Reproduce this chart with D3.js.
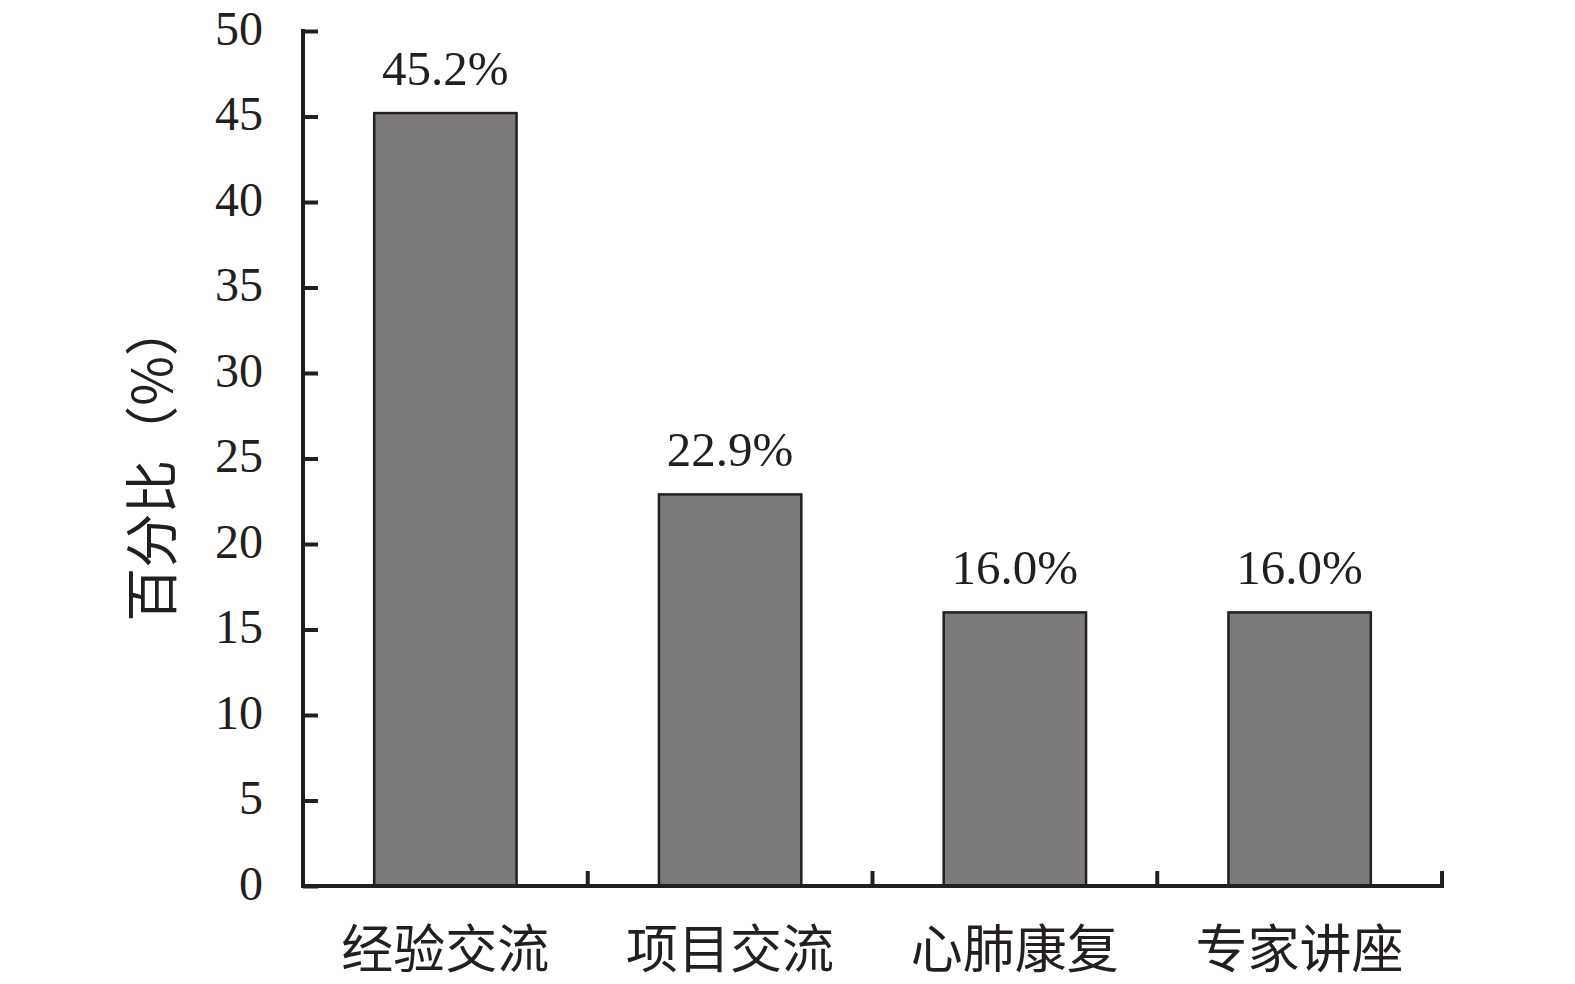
<!DOCTYPE html>
<html><head><meta charset="utf-8">
<script src="https://cdn.jsdelivr.net/npm/d3@7"></script>
<style>body{margin:0;background:#fff}svg{display:block}</style>
</head><body>
<svg id="c" width="1575" height="984"></svg>
<script>
const categories = ["经验交流", "项目交流", "心肺康复", "专家讲座"];
const values = [45.2, 22.9, 16.0, 16.0];
const valueLabels = ["45.2%", "22.9%", "16.0%", "16.0%"];
const yTicks = [0, 5, 10, 15, 20, 25, 30, 35, 40, 45, 50];
const yTitle = "百分比（%）";

const svg = d3.select("#c");
const pLeft = 303, pRight = 1442, pTop = 31, pBottom = 886;
const ink = "#231f20";
const numFont = "'Liberation Serif', 'DejaVu Serif', serif";
const cjkFont = "'Noto Sans CJK SC', sans-serif";

const x = d3.scaleBand().domain(categories).range([pLeft, pRight]).paddingInner(0.5).paddingOuter(0.25);
const xb = d3.scaleBand().domain(categories).range([pLeft, pRight]);
const y = d3.scaleLinear().domain([0, 50]).range([pBottom, pTop]);

// bars
svg.selectAll("rect.bar").data(values).join("rect")
  .attr("x", (d, i) => x(categories[i]))
  .attr("y", d => y(d))
  .attr("width", x.bandwidth())
  .attr("height", d => pBottom - y(d))
  .attr("fill", "#7b797a")
  .attr("stroke", ink).attr("stroke-width", 2.5);

// value labels
svg.selectAll("text.val").data(values).join("text")
  .attr("x", (d, i) => x(categories[i]) + x.bandwidth() / 2)
  .attr("y", d => y(d) - 28)
  .attr("text-anchor", "middle")
  .attr("font-family", numFont).attr("font-size", 49).attr("fill", ink)
  .text((d, i) => valueLabels[i]);

// y axis
const yAxis = d3.axisLeft(y).tickValues(yTicks).tickSize(-15).tickPadding(40);
const gy = svg.append("g").attr("transform", `translate(${pLeft},0)`).call(yAxis);
gy.select(".domain").attr("stroke", ink).attr("stroke-width", 4).attr("d", `M0,${pTop - 2}V${pBottom}`);
gy.selectAll(".tick line").attr("stroke", ink).attr("stroke-width", 4);
gy.selectAll(".tick text").attr("font-family", numFont).attr("font-size", 48).attr("fill", ink)
  .attr("x", -40).attr("dy", "0.28em");

// x axis
const gx = svg.append("g").attr("transform", `translate(0,${pBottom})`);
gx.append("path").attr("d", `M${pLeft - 2},0H${pRight + 2}`).attr("stroke", ink).attr("stroke-width", 4).attr("fill", "none");
const xTickPos = categories.map(c => xb(c) + xb.bandwidth());
gx.selectAll("line.t").data(xTickPos).join("line")
  .attr("x1", d => d).attr("x2", d => d).attr("y1", 0).attr("y2", -15)
  .attr("stroke", ink).attr("stroke-width", 4);
gx.selectAll("text.cat").data(categories).join("text")
  .attr("x", d => xb(d) + xb.bandwidth() / 2)
  .attr("y", 82)
  .attr("text-anchor", "middle")
  .attr("font-family", cjkFont).attr("font-size", 52).attr("fill", ink)
  .text(d => d);

// y title
svg.append("text")
  .attr("transform", `translate(172,462) rotate(-90)`)
  .attr("text-anchor", "middle")
  .attr("font-family", cjkFont).attr("font-size", 54).attr("fill", ink)
  .text(yTitle);
</script>
</body></html>
